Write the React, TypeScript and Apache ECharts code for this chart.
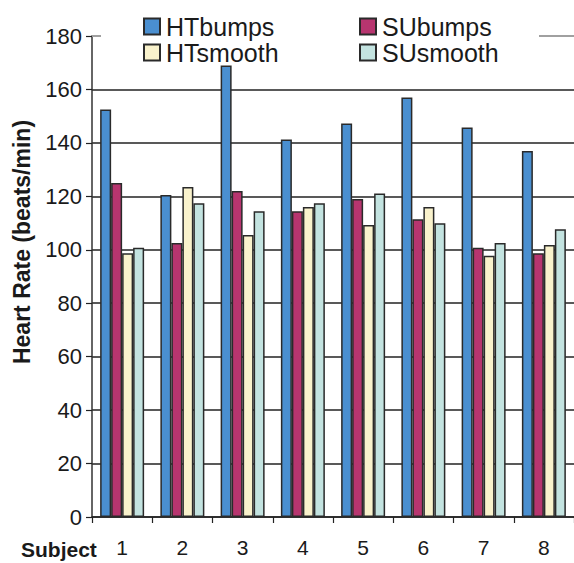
import React, { useEffect, useRef } from "react";
import * as echarts from "echarts";

const subjects = ["1", "2", "3", "4", "5", "6", "7", "8"];
const htBumps = [152.5, 120.5, 169, 141.3, 147.3, 157, 145.8, 137];
const suBumps = [125, 102.5, 122, 114.4, 119, 111.4, 100.8, 98.7];
const htSmooth = [98.7, 123.5, 105.5, 116, 109.3, 116, 97.8, 101.8];
const suSmooth = [100.8, 117.4, 114.4, 117.4, 121.1, 109.9, 102.5, 107.7];
const yTicks = { min: 0, max: 180, interval: 20 };

const FONT = "'Liberation Sans', Arial, Helvetica, sans-serif";

export default function App() {
  const ref = useRef<HTMLDivElement>(null);
  useEffect(() => {
    if (!ref.current) return;
    const chart = echarts.init(ref.current, null, { renderer: "svg" });
    const border = { borderColor: "#2a2a2a", borderWidth: 1.5 };
    const mk = (name: string, data: number[], color: string) => ({
      name,
      type: "bar",
      data,
      barGap: "0%",
      barCategoryGap: "27%",
      itemStyle: { color, ...border },
    });
    const legendBase = {
      orient: "horizontal",
      padding: 0,
      icon: "rect",
      itemWidth: 16,
      itemHeight: 16,
      itemGap: 0,
      textStyle: { fontFamily: FONT, fontSize: 25, color: "#1a1a1a", padding: [0, 0, 0, 1] },
    };
    chart.setOption({
      animation: false,
      backgroundColor: "#ffffff",
      textStyle: { fontFamily: FONT },
      grid: { left: 92, top: 36, width: 484, height: 481, containLabel: false },
      legend: [
        { ...legendBase, data: ["HTbumps"], left: 143, top: 14 },
        { ...legendBase, data: ["SUbumps"], left: 359, top: 14 },
        { ...legendBase, data: ["HTsmooth"], left: 143, top: 40 },
        { ...legendBase, data: ["SUsmooth"], left: 359, top: 40 },
      ],
      graphic: [
        {
          type: "rect",
          z: 3,
          shape: { x: 101, y: 0, width: 438, height: 60 },
          style: { fill: "#ffffff" },
        },
        {
          type: "text",
          z: 5,
          x: 21,
          y: 549,
          style: {
            text: "Subject",
            font: `bold 21px ${FONT}`,
            fill: "#1a1a1a",
            textAlign: "left",
            textVerticalAlign: "middle",
          },
        },
        {
          type: "text",
          z: 5,
          x: 22,
          y: 242,
          rotation: Math.PI / 2,
          style: {
            text: "Heart Rate (beats/min)",
            font: `bold 23px ${FONT}`,
            fill: "#1a1a1a",
            textAlign: "center",
            textVerticalAlign: "middle",
          },
        },
      ],
      xAxis: [
        {
          type: "category",
          data: subjects,
          position: "bottom",
          axisLine: { show: true, lineStyle: { color: "#222", width: 1.5 } },
          axisTick: { show: true, length: 6, lineStyle: { color: "#222", width: 1.2 } },
          axisLabel: { fontSize: 21, color: "#1a1a1a", margin: 20, fontFamily: FONT },
          splitLine: { show: false },
        },
        {
          type: "category",
          data: subjects,
          position: "top",
          axisLine: { show: true, lineStyle: { color: "#a0a0a0", width: 2 } },
          axisTick: { show: false },
          axisLabel: { show: false },
          splitLine: { show: false },
        },
      ],
      yAxis: {
        type: "value",
        min: yTicks.min,
        max: yTicks.max,
        interval: yTicks.interval,
        axisLine: { show: true, lineStyle: { color: "#333", width: 1.5 } },
        axisTick: { show: true, length: 6, lineStyle: { color: "#222", width: 1.2 } },
        axisLabel: { fontSize: 22, color: "#1a1a1a", margin: 10, fontFamily: FONT },
        splitLine: { show: true, showMaxLine: false, lineStyle: { color: "#222", width: 1.5 } },
      },
      series: [
        mk("HTbumps", htBumps, "#4a8fd0"),
        mk("SUbumps", suBumps, "#b7356f"),
        mk("HTsmooth", htSmooth, "#f9f2cc"),
        mk("SUsmooth", suSmooth, "#c3e3e0"),
      ],
    });
    return () => chart.dispose();
  }, []);
  return (
    <div
      ref={ref}
      style={{ position: "absolute", left: 0, top: 0, width: 574, height: 563 }}
    />
  );
}
